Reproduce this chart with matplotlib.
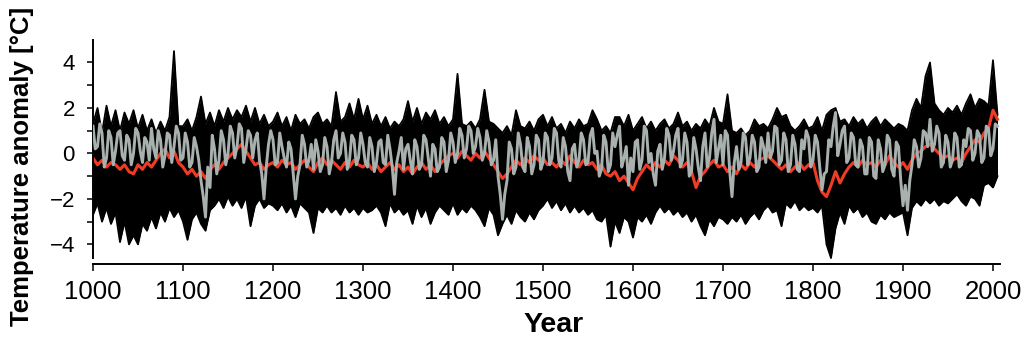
import numpy as np
from matplotlib import pyplot as plt

plt.rcParams['font.family'] = ['Liberation Sans', 'DejaVu Sans']

# Years, one value every 5 years from 1000 to 2005 (black band and mean)
years = np.arange(1000, 2006, 5)
# The grey series is read at a finer step, every 2.5 years
grey_years = np.arange(1000, 2006, 2.5)

# Upper edge of the black ensemble band
black_hi = [
    1.3, 2.0, 0.9, 2.1, 1.2, 1.9, 1.0, 1.8, 1.3, 1.9, 1.1, 1.7, 1.0, 1.5, 0.9, 1.4, 1.0, 1.6, 4.5, 1.2,  # 1000s
    1.2, 1.5, 1.0, 1.6, 2.5, 1.3, 1.8, 1.2, 1.9, 1.4, 2.0, 1.5, 1.9, 1.6, 2.1, 1.4, 2.0, 1.3, 1.7, 1.2,  # 1100s
    1.4, 1.8, 1.2, 1.6, 1.0, 1.7, 1.3, 1.5, 1.1, 1.6, 1.8, 1.3, 1.5, 1.2, 2.7, 1.4, 1.6, 2.2, 1.5, 2.4,  # 1200s
    1.5, 2.1, 1.3, 1.7, 1.2, 1.6, 1.1, 1.4, 1.2, 1.5, 2.3, 1.4, 2.0, 1.3, 1.8, 1.5, 1.9, 1.3, 1.6, 1.2,  # 1300s
    1.5, 3.5, 1.3, 1.2, 1.4, 1.1, 1.5, 2.8, 1.4, 1.3, 1.1, 0.9, 1.2, 0.8, 1.9, 1.2, 1.1, 1.4, 1.0, 1.5,  # 1400s
    1.7, 1.2, 1.6, 1.1, 1.3, 0.9, 1.4, 1.1, 1.5, 1.2, 1.3, 1.9, 1.5, 1.0, 1.2, 0.9, 1.6, 1.6, 1.2, 1.7,  # 1500s
    1.0, 1.3, 1.6, 1.1, 1.4, 1.0, 1.3, 1.5, 1.1, 1.3, 1.8, 1.2, 1.4, 1.0, 1.3, 1.1, 1.5, 1.2, 2.0, 1.4,  # 1600s
    1.3, 2.6, 1.0, 0.9, 1.1, 0.8, 1.0, 1.5, 1.2, 1.3, 1.1, 1.5, 2.0, 1.6, 1.7, 1.2, 1.0, 1.2, 1.5, 1.1,  # 1700s
    1.2, 1.6, 1.0, 1.7, 1.9, 2.0, 1.4, 1.5, 1.2, 1.6, 1.3, 1.5, 1.1, 1.4, 1.6, 1.2, 1.5, 1.3, 1.1, 1.3,  # 1800s
    1.2, 1.0, 1.9, 2.4, 2.0, 3.4, 4.0, 2.2, 1.9, 1.7, 2.0, 1.8, 2.1, 1.7, 2.2, 2.6, 2.0, 2.4, 2.3, 2.1,  # 1900s
    4.1, 1.7]

# Lower edge of the black ensemble band
black_lo = [
    -2.7, -2.2, -3.0, -2.4, -3.1, -2.6, -3.9, -3.0, -4.0, -3.6, -4.0, -3.1, -3.4, -2.8, -3.3, -2.6, -3.0, -2.4, -2.8, -2.5,
    -3.0, -3.8, -2.9, -2.6, -3.1, -3.4, -2.5, -2.3, -2.0, -2.4, -1.9, -2.3, -2.0, -2.4, -1.9, -3.2, -2.3, -2.0, -2.4, -2.2,
    -2.3, -2.5, -2.2, -2.6, -2.3, -2.8, -2.2, -2.4, -2.6, -3.5, -2.4, -2.6, -2.3, -2.6, -2.4, -2.7, -2.3, -2.6, -2.4, -2.7,
    -2.4, -2.6, -2.5, -2.3, -2.6, -3.2, -2.2, -2.6, -2.4, -2.7, -2.5, -3.1, -2.3, -2.8, -2.4, -3.1, -2.6, -2.3, -2.5, -2.7,
    -2.2, -2.7, -2.4, -2.6, -2.3, -2.5, -2.8, -3.2, -2.4, -2.7, -3.6, -3.1, -2.7, -3.1, -2.5, -2.8, -3.0, -2.6, -2.9, -2.5,
    -2.3, -2.0, -2.4, -2.1, -2.5, -2.2, -2.6, -2.3, -2.6, -2.4, -2.7, -2.5, -2.9, -3.0, -2.7, -4.1, -3.0, -3.5, -2.8, -3.0,
    -3.7, -2.8, -3.0, -2.7, -3.1, -2.6, -2.3, -2.6, -2.4, -2.7, -2.5, -2.8, -2.6, -3.0, -2.7, -3.2, -3.6, -2.9, -3.2, -2.8,
    -2.9, -3.1, -2.8, -3.0, -2.7, -3.1, -2.8, -2.6, -2.9, -2.5, -2.3, -2.6, -2.5, -3.2, -2.2, -2.4, -2.1, -2.5, -2.3, -2.5,
    -2.4, -2.6, -2.3, -4.0, -4.6, -3.3, -2.6, -3.1, -2.3, -2.6, -2.4, -2.8, -2.6, -3.0, -3.1, -2.7, -2.9, -2.6, -2.8, -2.7,
    -2.6, -3.6, -2.4, -2.1, -2.3, -2.0, -2.2, -2.0, -2.3, -2.1, -2.2, -2.0, -1.8, -2.1, -2.3, -1.9, -2.0, -2.3, -1.4, -1.3,
    -1.5, -1.0]

# Single reconstruction (grey), every 2.5 years
grey_series = [
    1.2, 0.2, 0.3, 1.3, 0.9, -0.6, -0.2, 1.0, 0.7, -0.5, 0.1, 0.9, 1.0, -0.1, -0.3, 0.8, 0.6, -0.5, 0.0, 1.1,
    0.9, 0.1, -0.4, 0.7, 0.5, -0.3, 1.1, 0.2, -0.2, 1.0, 0.6, -0.6, -0.1, 0.9, 0.8, -0.4, 0.3, 1.2, 0.9, -0.3,  # 1000s
    -0.2, 0.9, 0.5, -0.6, -0.4, 0.7, 0.3, -0.3, -1.2, -1.9, -2.8, -0.6, -1.5, 0.8, 0.2, -0.9, -0.3, 1.0, 0.6, -0.5,
    0.0, 1.2, 0.9, -0.2, 0.3, 1.3, 1.1, -0.4, 0.2, 1.0, 0.8, -0.2, 0.6, 0.9, -0.3, -0.9, -2.0, -0.6, 0.4, 1.0,  # 1100s
    0.6, -0.5, -0.4, 0.9, 0.3, -0.2, -0.6, 0.5, 0.2, -0.9, -2.0, -1.0, -0.5, 0.8, 0.4, -0.6, -0.3, 0.4, -0.7, 0.6,
    0.1, -0.8, -0.5, 0.7, 0.3, -0.9, -0.4, 0.6, 1.0, -0.2, 0.0, 0.9, 0.5, -0.7, -0.3, 0.8, 0.6, -0.5, -0.2, 0.9,  # 1200s
    0.4, -0.4, -0.6, 0.7, 0.3, -0.8, -0.4, 0.5, 0.6, -0.4, -0.5, 0.8, 0.2, -0.6, -1.8, -0.4, 0.1, 0.7, -0.7, 0.2,
    0.4, -0.3, -0.9, 0.6, 0.3, -0.7, -0.5, 0.8, 0.6, -0.2, -1.0, 0.4, 0.2, -0.8, -0.6, 0.7, 0.5, -0.8, -0.3, 0.9,  # 1300s
    0.5, -0.4, 0.0, 1.1, 0.8, -0.2, 0.2, 1.2, 1.0, 0.0, 0.3, 1.1, 0.7, -0.3, 0.0, 1.0, 0.5, -0.5, -0.3, 0.6,
    -1.0, -1.8, -2.9, -1.8, -1.2, 0.5, 0.2, -0.9, -0.6, 0.9, 0.4, -0.6, -0.8, 0.7, 0.3, -0.9, -0.5, 0.8, 0.6, -0.7,  # 1400s
    -0.4, 0.9, 0.7, -0.5, -0.2, 1.1, 0.9, -0.3, -0.6, 0.7, 0.3, -0.8, -1.2, 0.2, 0.4, -0.6, -0.3, 0.9, 0.6, -0.5,
    -0.4, 0.8, 1.1, 0.0, 0.1, -1.0, -0.7, 0.8, 0.5, -0.8, -0.5, 0.9, 0.3, 0.8, 1.2, -0.6, -0.2, 0.3, -1.4, -0.2,  # 1500s
    -0.8, 0.5, 0.6, -0.7, -0.3, 1.2, 1.0, -0.4, 0.0, -0.9, -1.4, 0.1, 0.4, -0.7, -0.2, 1.1, 0.8, -0.3, 0.1, 0.8,
    1.1, -0.6, -0.3, 0.9, 0.5, -1.0, -0.8, 0.7, 0.2, -0.6, -1.2, 0.3, 0.9, -0.6, -0.2, 0.9, 1.5, -0.4, 0.2, 0.8,  # 1600s
    -0.5, 1.0, 0.8, -0.8, -1.9, -0.4, 0.3, -0.7, -0.4, 0.9, 0.7, -0.5, -0.2, 0.8, 0.5, -0.8, -0.6, 0.7, 0.3, -0.4,
    0.9, -0.2, 0.1, 1.2, 1.1, -0.5, -0.3, 0.9, 0.6, -0.8, -0.5, 0.8, 0.4, -0.7, -0.8, 0.6, 0.2, 1.0, 0.7, -0.6,  # 1700s
    -0.3, 0.8, 0.5, -0.6, -1.6, -0.9, -0.8, 0.6, 0.3, 1.2, 1.8, -0.1, 0.4, 1.0, 1.2, -0.4, -0.2, 0.9, 0.7, -0.5,
    -0.6, 0.6, 0.3, -0.9, -0.9, 0.7, 0.5, -1.0, -1.1, 0.6, 0.2, -0.8, -0.5, 0.8, 0.6, -0.7, -1.0, 0.5, 0.3, -1.2,  # 1800s
    -2.3, -1.4, -2.5, -1.2, -0.5, 0.6, 0.3, -0.6, -0.2, 1.0, 0.9, 0.3, 1.5, 0.1, 0.4, 1.2, 0.9, -0.6, -0.4, 0.8,
    0.5, -0.6, -0.3, 0.9, 0.7, -0.6, -0.5, 0.6, 0.3, 1.1, 1.0, -0.3, 0.0, 1.0, 0.8, -0.4, -0.2, 1.2, 1.1, -0.1,  # 1900s
    0.2, 1.3, 1.2]

# Ensemble mean (red)
mean_series = [
    -0.2, -0.5, -0.3, -0.6, -0.4, -0.5, -0.7, -0.5, -0.8, -0.9, -0.5, -0.7, -0.4, -0.6, -0.3, 0.0, 0.2, -0.2, 0.1, -0.4,
    -0.6, -0.9, -0.7, -1.0, -0.8, -1.1, -0.7, -0.5, -0.7, -0.4, -0.2, 0.0, 0.2, 0.4, 0.1, -0.2, -0.5, -0.4, -0.7, -0.5,
    -0.4, -0.6, -0.3, -0.5, -0.4, -0.7, -0.5, -0.3, -0.6, -0.8, -0.4, -0.2, -0.5, -0.3, -0.5, -0.7, -0.4, -0.6, -0.3, -0.5,
    -0.6, -0.4, -0.7, -0.5, -0.8, -0.6, -0.4, -0.7, -0.5, -0.8, -0.6, -0.9, -0.6, -0.4, -0.7, -0.5, -0.8, -0.5, -0.3, -0.1,
    0.0, -0.2, 0.1, -0.1, -0.3, 0.0, -0.2, 0.1, -0.2, -0.5, -0.8, -1.1, -0.9, -0.6, -0.3, -0.5, -0.2, -0.4, -0.1, -0.3,
    -0.2, -0.5, -0.4, -0.6, -0.3, -0.5, -0.1, -0.4, -0.6, -0.3, -0.5, -0.4, -0.7, -0.5, -0.9, -1.0, -0.8, -1.2, -1.0, -1.3,
    -1.6, -1.1, -0.8, -0.5, -0.7, -0.4, -0.6, -0.3, -0.5, -0.1, -0.3, -0.6, -0.4, -0.8, -1.5, -1.0, -0.8, -0.5, -0.3, -0.6,
    -0.5, -0.8, -0.6, -0.9, -0.5, -0.7, -0.4, -0.6, -0.3, -0.2, -0.1, -0.3, -0.5, -0.7, -0.5, -0.8, -0.6, -0.4, -0.7, -0.5,
    -0.4, -1.2, -1.7, -1.9, -1.4, -0.8, -1.3, -0.9, -0.6, -0.4, -0.6, -0.3, -0.5, -0.4, -0.6, -0.3, -0.5, -0.1, -0.4, -0.6,
    -0.4, -0.7, -0.3, 0.0, 0.1, 0.3, 0.4, 0.2, 0.0, -0.2, -0.1, -0.3, -0.2, -0.4, 0.0, 0.3, 0.6, 0.5, 0.9, 1.1,
    1.9, 1.5]

x_ticks = list(range(1000, 2001, 100))
y_ticks = [-4, -2, 0, 2, 4]
y_minor = [-3, -1, 1, 3]

fig = plt.figure(figsize=(10.24, 3.44), dpi=100)
ax = fig.add_axes([93 / 1024, 1 - 263.7 / 344, 909 / 1024, 223.95 / 344])

# black ensemble band
ax.fill_between(years, black_lo, black_hi, color='black', lw=0, zorder=1)
ax.plot(years, black_hi, color='black', lw=1.3, zorder=1)
ax.plot(years, black_lo, color='black', lw=1.3, zorder=1)
# mean and single series
ax.plot(years, mean_series, color='#f03b26', lw=2.2, zorder=2)
ax.plot(grey_years, grey_series, color='#a8b1ae', lw=2.1, zorder=3)

ax.set_xlim(1000, 2010)
ax.set_ylim(-4.85, 5.0)

for s in ['top', 'right']:
    ax.spines[s].set_visible(False)
ax.spines['left'].set_bounds(-4.6, 5.0)
ax.spines['bottom'].set_bounds(1000, 2008)
ax.spines['left'].set_linewidth(1.4)
ax.spines['bottom'].set_linewidth(1.4)

ax.set_xticks(x_ticks)
ax.set_yticks(y_ticks)
ax.set_yticks(y_minor, minor=True)
ax.tick_params(axis='x', direction='out', length=5, width=1.1, labelsize=18.5, pad=7)
ax.tick_params(axis='y', which='both', direction='out', length=4, width=1.1, labelsize=16, pad=9)

fig.text(554 / 1024, 1 - 332 / 344, 'Year', fontsize=20.5, fontweight='bold',
         ha='center', va='baseline')
fig.text(22 / 1024, 1 - 166.5 / 344, 'Temperature anomaly [°C]', fontsize=18.5,
         fontweight='bold', rotation=90, ha='center', va='center')

fig.savefig('out.png', dpi=100)
